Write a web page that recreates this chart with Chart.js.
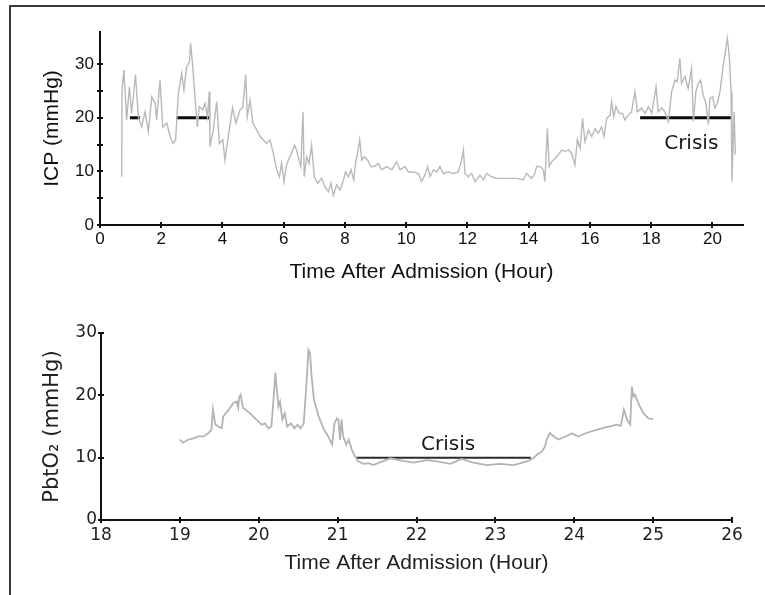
<!DOCTYPE html>
<html>
<head>
<meta charset="utf-8">
<script src="https://cdn.jsdelivr.net/npm/chart.js@4"></script>
<style>
  body { margin: 0; background: #fff; }
  #moldura { position: absolute; left: 9px; top: 5px; width: 760px; height: 600px; border-left: 2px solid #3a3a3a; border-top: 2px solid #3a3a3a; }
  canvas { position: absolute; left: 0; }
</style>
</head>
<body>
<div id="moldura"></div>
<canvas id="graficoICP" width="765" height="300" style="top:0"></canvas>
<canvas id="graficoPbtO2" width="765" height="295" style="top:300px"></canvas>
<script>
// ---------- dados ----------
const horasICP = [
  0.71, 0.72, 0.78, 0.87, 0.96, 1.03, 1.16, 1.25, 1.36, 1.47, 1.58, 1.69, 1.80, 1.85, 1.96, 2.05,
  2.18, 2.29, 2.39, 2.47, 2.56, 2.67, 2.74, 2.83, 2.92, 2.96, 3.03, 3.10, 3.18, 3.24, 3.35, 3.43,
  3.51, 3.57, 3.59, 3.70, 3.81, 3.90, 4.01, 4.08, 4.19, 4.33, 4.44, 4.57, 4.66, 4.76, 4.81, 4.90,
  4.99, 5.12, 5.23, 5.33, 5.44, 5.55, 5.66, 5.77, 5.86, 5.93, 6.01,
  6.08, 6.15, 6.26, 6.35, 6.42, 6.50, 6.56, 6.63, 6.67, 6.75, 6.83, 6.91, 7.00, 7.11, 7.24, 7.35,
  7.46, 7.54, 7.62, 7.73, 7.84, 7.95, 8.02, 8.11, 8.20, 8.29, 8.35, 8.41, 8.48, 8.55, 8.63, 8.74,
  8.85, 8.96, 9.09, 9.20, 9.36, 9.53, 9.69, 9.80, 9.96, 10.07, 10.23, 10.40, 10.50, 10.61, 10.70,
  10.78, 10.89, 11.00, 11.10, 11.21, 11.38, 11.54, 11.70, 11.81, 11.87,
  11.92, 12.03, 12.14, 12.25, 12.41, 12.52, 12.63, 12.79, 12.95, 13.17, 13.39, 13.61, 13.82, 13.93,
  14.10, 14.20, 14.26, 14.37, 14.48, 14.53, 14.61, 14.67, 14.75, 14.86, 14.97, 15.08, 15.19, 15.30,
  15.40, 15.51, 15.59, 15.68, 15.76, 15.84, 15.95, 16.06, 16.17, 16.27, 16.38, 16.46, 16.55, 16.66,
  16.71, 16.78, 16.85, 16.96, 17.07, 17.14, 17.25, 17.36,
  17.47, 17.55, 17.69, 17.80, 17.91, 18.02, 18.16, 18.23, 18.34, 18.45, 18.56, 18.67, 18.78, 18.85,
  18.94, 18.99, 19.10, 19.21, 19.32, 19.38, 19.46, 19.54, 19.62, 19.70, 19.79, 19.87, 19.92, 20.01,
  20.08, 20.16, 20.25, 20.34, 20.41, 20.49, 20.55, 20.61, 20.64, 20.71, 20.75
];
const valoresICP = [
  9.0, 25.2, 28.9, 19.6, 25.8, 20.8, 28.0, 20.2, 18.3, 21.1, 17.4, 23.9, 22.7, 19.6, 27.0, 18.3,
  19.0, 16.5, 15.2, 15.9, 24.6, 28.3, 25.2, 29.5, 30.5, 33.9, 29.5, 23.9, 18.3, 22.1, 21.5, 22.7,
  20.2, 24.9, 14.6, 17.7, 23.0, 15.2, 15.9, 12.1, 16.5, 21.8, 19.0, 21.5, 21.8, 28.0, 20.2, 23.3,
  19.0, 17.7, 16.5, 15.9, 15.2, 15.9, 13.4, 10.3, 9.0, 11.5, 8.1,
  10.9, 12.1, 13.4, 14.9, 14.0, 12.1, 10.9, 21.1, 9.0, 12.7, 11.5, 14.9, 9.0, 7.8, 8.7, 7.1,
  6.2, 7.8, 5.6, 7.5, 6.5, 8.4, 9.9, 9.0, 10.3, 8.4, 11.8, 13.4, 15.9, 12.1, 12.7, 12.1,
  10.9, 10.9, 11.5, 10.3, 10.9, 10.3, 11.8, 10.3, 10.9, 9.9, 9.9, 9.6, 8.1, 9.3, 10.9,
  9.0, 10.3, 9.9, 10.9, 9.6, 9.9, 9.6, 9.9, 12.1, 14.0,
  9.6, 9.0, 9.6, 8.1, 9.3, 8.4, 9.6, 9.0, 8.7, 8.7, 8.7, 8.7, 8.4, 9.6,
  8.7, 9.6, 10.9, 10.9, 10.3, 8.1, 18.0, 10.9, 11.8, 12.4, 13.1, 14.0, 13.7, 14.0,
  13.4, 11.2, 15.9, 14.3, 19.9, 15.5, 17.7, 16.5, 18.0, 17.1, 18.3, 16.5, 19.9, 20.5,
  23.0, 20.2, 22.1, 20.8, 20.8, 19.6, 20.5, 21.1,
  24.9, 21.1, 21.8, 20.8, 22.1, 20.8, 25.8, 21.1, 21.8, 21.1, 19.3, 24.9, 27.0, 26.7,
  31.1, 26.4, 27.7, 25.5, 29.2, 19.3, 24.9, 26.4, 27.0, 24.2, 22.7, 18.7, 23.6, 23.9,
  21.8, 22.7, 24.9, 29.2, 31.7, 34.8, 31.7, 24.9, 8.1, 21.1, 13.1
];
const horasPbtO2 = [
  19.00, 19.04, 19.11, 19.17, 19.23, 19.30, 19.36, 19.40, 19.42, 19.45, 19.49, 19.53, 19.55, 19.62,
  19.68, 19.72, 19.74, 19.75, 19.77, 19.80, 19.89, 19.97, 20.04, 20.08, 20.12, 20.16, 20.19, 20.21,
  20.23, 20.25, 20.27, 20.30, 20.33, 20.36, 20.41, 20.45, 20.49, 20.53, 20.57, 20.60, 20.63, 20.65,
  20.67, 20.70, 20.76, 20.82, 20.88, 20.93, 20.96, 20.99, 21.01, 21.03, 21.05, 21.07, 21.11, 21.14,
  21.18, 21.22, 21.26, 21.33, 21.39, 21.45, 21.67, 21.83, 21.96, 22.13, 22.26, 22.43, 22.57, 22.72,
  22.89, 23.06, 23.23, 23.40, 23.48, 23.53, 23.59, 23.63, 23.65, 23.69, 23.74, 23.80, 23.89, 23.97,
  24.05, 24.16, 24.29, 24.41, 24.54, 24.59, 24.63, 24.67, 24.71, 24.73, 24.75, 24.77, 24.82, 24.88,
  24.94, 25.00
];
const valoresPbtO2 = [
  12.9, 12.4, 12.9, 13.1, 13.4, 13.4, 13.9, 14.5, 17.7, 15.3, 15.0, 14.7, 16.6, 17.7,
  18.8, 19.0, 18.0, 19.6, 20.1, 18.0, 17.1, 16.1, 15.3, 15.5, 14.7, 15.0, 19.8, 23.6,
  20.9, 18.2, 19.0, 16.1, 17.1, 15.0, 15.5, 14.7, 15.3, 14.7, 15.5, 20.9, 27.3, 26.8,
  23.0, 19.3, 16.6, 14.7, 13.4, 12.1, 15.5, 16.3, 16.1, 12.9, 16.1, 13.4, 12.1, 12.9,
  11.3, 10.2, 9.4, 9.0, 9.1, 8.8, 9.9, 9.5, 9.2, 9.6, 9.4, 9.0, 9.8, 9.2,
  8.8, 9.0, 8.8, 9.4, 9.9, 10.5, 11.0, 11.8, 12.9, 14.0, 13.4, 12.9, 13.4, 13.9,
  13.4, 14.0, 14.5, 14.9, 15.3, 15.1, 17.7, 16.1, 15.3, 21.4, 19.8, 20.1, 18.5, 17.1,
  16.3, 16.2
];
// períodos de crise (início, fim em horas) e limiares
const crisesICP = [[0.98, 1.31], [2.50, 3.57], [17.64, 20.63]];
const limiarICP = 20;
const crisesPbtO2 = [[21.24, 23.45]];
const limiarPbtO2 = 10;

// ---------- plugins ----------
// marcas de escala cruzando o eixo
const marcasCruzadas = {
  id: 'marcasCruzadas',
  afterDraw(chart, args, opts) {
    const ctx = chart.ctx;
    const sx = chart.scales.x, sy = chart.scales.y;
    ctx.save();
    ctx.strokeStyle = opts.cor;
    ctx.lineWidth = 2;
    sx.ticks.forEach(t => {
      const px = Math.round(sx.getPixelForValue(t.value));
      ctx.beginPath();
      ctx.moveTo(px, sx.top - opts.tam);
      ctx.lineTo(px, sx.top + opts.tam);
      ctx.stroke();
    });
    sy.ticks.forEach(t => {
      const py = Math.round(sy.getPixelForValue(t.value));
      ctx.beginPath();
      ctx.moveTo(sy.right - opts.tam, py);
      ctx.lineTo(sy.right + opts.tam, py);
      ctx.stroke();
    });
    ctx.restore();
  }
};

// rótulo "Crisis" em coordenadas de dados
const rotuloCrise = {
  id: 'rotuloCrise',
  afterDatasetsDraw(chart, args, opts) {
    const ctx = chart.ctx;
    ctx.save();
    ctx.font = '20px "DejaVu Sans"';
    ctx.fillStyle = '#1a1a1a';
    ctx.textAlign = 'center';
    ctx.textBaseline = 'alphabetic';
    ctx.fillText(opts.texto, chart.scales.x.getPixelForValue(opts.x), chart.scales.y.getPixelForValue(opts.y));
    ctx.restore();
  }
};

const segmentos = (crises, nivel, cor, largura) => crises.map(([a, b]) => ({
  data: [{ x: a, y: nivel }, { x: b, y: nivel }],
  borderColor: cor,
  borderWidth: largura,
  pointRadius: 0,
  borderCapStyle: 'butt'
}));

const pontos = (hs, vs) => hs.map((h, i) => ({ x: h, y: vs[i] }));

function criaGrafico(canvas, cfg) {
  return new Chart(canvas.getContext('2d'), {
    type: 'line',
    data: {
      datasets: [
        {
          data: cfg.serie,
          borderColor: cfg.corSerie,
          borderWidth: cfg.largSerie,
          pointRadius: 0,
          tension: 0
        },
        ...cfg.crises
      ]
    },
    options: {
      responsive: false,
      devicePixelRatio: 1,
      animation: false,
      events: [],
      layout: { padding: cfg.padding },
      plugins: {
        legend: { display: false },
        tooltip: { enabled: false },
        marcasCruzadas: { cor: '#111', tam: 3 },
        rotuloCrise: cfg.rotulo
      },
      scales: {
        x: {
          type: 'linear',
          min: cfg.x.min,
          max: cfg.x.max,
          afterFit: s => { s.height = cfg.x.altura; },
          afterBuildTicks: s => { s.ticks = s.ticks.filter(t => Number.isInteger(t.value / cfg.x.passo)); },
          grid: { display: false, drawTicks: false },
          border: { display: true, color: '#111', width: 2 },
          ticks: {
            stepSize: cfg.x.passo,
            autoSkip: false,
            maxRotation: 0,
            padding: cfg.x.pad,
            color: cfg.corTexto,
            font: cfg.fonteTicks
          },
          title: {
            display: true,
            text: 'Time After Admission (Hour)',
            color: cfg.corTexto,
            padding: 0,
            font: { family: 'Liberation Sans', size: 21 }
          }
        },
        y: {
          min: 0,
          max: cfg.y.max,
          afterFit: s => { s.width = cfg.y.largura; },
          afterBuildTicks: s => { s.ticks = s.ticks.filter(t => Number.isInteger(t.value / cfg.y.passo)); },
          grid: { display: false, drawTicks: false },
          border: { display: true, color: '#111', width: 2 },
          ticks: {
            stepSize: cfg.y.passo,
            autoSkip: false,
            padding: cfg.y.pad,
            color: cfg.corTexto,
            font: cfg.fonteTicks,
            callback: v => (v % 10 === 0 ? v : '')
          },
          title: {
            display: true,
            text: cfg.y.titulo,
            color: cfg.corTexto,
            padding: 0,
            font: cfg.y.fonteTitulo
          }
        }
      }
    },
    plugins: [marcasCruzadas, rotuloCrise]
  });
}

// ---------- ICP ----------
criaGrafico(document.getElementById('graficoICP'), {
  serie: pontos(horasICP, valoresICP),
  corSerie: '#b9b9b9',
  largSerie: 1.4,
  crises: segmentos(crisesICP, limiarICP, '#0a0a0a', 3),
  padding: { left: 40, top: 32, right: 22, bottom: 15 },
  corTexto: '#111',
  fonteTicks: { family: 'Liberation Sans', size: 17 },
  rotulo: { texto: 'Crisis', x: 19.31, y: 14.2 },
  x: { min: 0, max: 21, passo: 2, altura: 60, pad: 4 },
  y: { max: 36, passo: 5, largura: 60, pad: 6, titulo: 'ICP (mmHg)', fonteTitulo: { family: 'Liberation Sans', size: 21 } }
});

// ---------- PbtO2 ----------
criaGrafico(document.getElementById('graficoPbtO2'), {
  serie: pontos(horasPbtO2, valoresPbtO2),
  corSerie: '#b3b3b3',
  largSerie: 1.8,
  crises: segmentos(crisesPbtO2, limiarPbtO2, '#2a2a2a', 2),
  padding: { left: 40, top: 33, right: 33, bottom: 19 },
  corTexto: '#222',
  fonteTicks: { family: 'DejaVu Sans', size: 17 },
  rotulo: { texto: 'Crisis', x: 22.40, y: 11.25 },
  x: { min: 18, max: 26, passo: 1, altura: 56, pad: 5 },
  y: { max: 30, passo: 10, largura: 61, pad: 4, titulo: 'PbtO₂ (mmHg)', fonteTitulo: { family: 'DejaVu Sans', size: 21 } }
});
</script>
</body>
</html>
